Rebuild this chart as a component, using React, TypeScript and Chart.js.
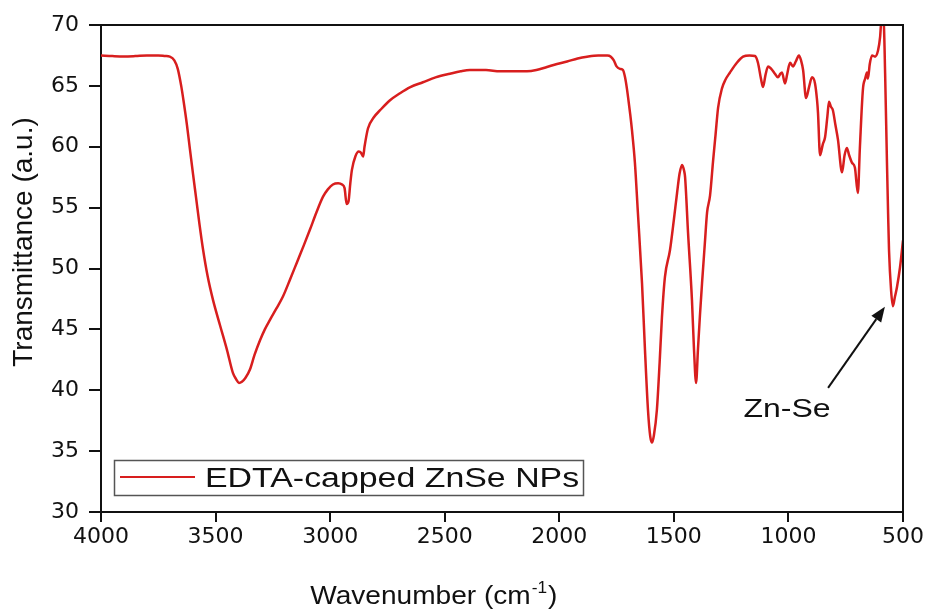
import React, { useEffect, useRef } from "react";
import { Chart, registerables } from "chart.js";

Chart.register(...registerables);

// ---- data ----
const wavenumbers = [
  4000, 3950, 3900, 3850, 3800, 3750, 3720, 3700, 3680, 3665, 3650, 3640, 3625, 3612, 3600,
  3585, 3570, 3555, 3535, 3511, 3480, 3450, 3424, 3410, 3398, 3385, 3370, 3350, 3330, 3306,
  3285, 3262, 3235, 3206, 3175, 3145, 3115, 3088, 3060, 3031, 3010, 2988, 2965, 2948, 2937,
  2928, 2920, 2912, 2905, 2890, 2875, 2865, 2856, 2850, 2835, 2810, 2782, 2740, 2695, 2650,
  2595, 2540, 2477, 2430, 2390, 2320, 2259, 2200, 2141, 2100, 2054, 2010, 1966, 1920, 1879,
  1830, 1790, 1775, 1762, 1750, 1735, 1722, 1713, 1705, 1700, 1690, 1683, 1670, 1657, 1639,
  1626, 1613, 1603, 1595, 1587, 1574, 1562, 1552, 1539, 1517, 1500, 1486, 1475, 1464, 1455,
  1451, 1438, 1421, 1412, 1403, 1395, 1386, 1377, 1365, 1355, 1342, 1329, 1318, 1307, 1290,
  1275, 1255, 1225, 1198, 1170, 1146, 1133, 1120, 1111, 1100, 1089, 1075, 1059, 1046, 1035,
  1028, 1015, 1005, 993, 980, 968, 954, 945, 936, 923, 910, 897, 884, 875, 871,
  862, 850, 840, 830, 823, 815, 806, 795, 784, 766, 755, 745, 735, 723, 710,
  697, 688, 675, 665, 657, 653, 645, 635, 622, 609, 600, 595, 590, 584, 578,
  570, 565, 561, 552, 544, 536, 526, 513, 500,
];
const transmittance = [
  67.5, 67.45, 67.42, 67.45, 67.5, 67.5, 67.45, 67.4, 67.1, 66.4, 65.0, 63.8, 61.8, 59.8, 58.0,
  55.8, 53.6, 51.6, 49.4, 47.4, 45.3, 43.3, 41.4, 40.9, 40.6, 40.7, 41.0, 41.7, 42.9, 44.1,
  45.0, 45.8, 46.7, 47.7, 49.1, 50.5, 51.9, 53.2, 54.6, 55.9, 56.5, 56.9, 57.0, 56.9, 56.6,
  55.3, 55.5, 57.0, 58.1, 59.2, 59.6, 59.5, 59.2, 60.0, 61.5, 62.4, 63.0, 63.8, 64.4, 64.9,
  65.3, 65.7, 66.0, 66.2, 66.3, 66.3, 66.2, 66.2, 66.2, 66.3, 66.55, 66.8, 67.0, 67.25, 67.4,
  67.5, 67.5, 67.4, 67.1, 66.6, 66.4, 66.3, 65.7, 64.8, 64.1, 62.6, 61.4, 58.7, 54.6, 48.8,
  43.3, 38.4, 36.2, 35.7, 36.3, 38.4, 42.3, 46.0, 49.3, 51.5, 54.0, 56.2, 57.8, 58.5, 58.0,
  57.5, 52.9, 47.4, 43.3, 40.6, 43.3, 46.2, 48.8, 52.0, 54.6, 56.0, 58.8, 61.0, 63.2, 64.8,
  65.5, 66.1, 66.9, 67.4, 67.5, 67.45, 66.9, 65.6, 64.9, 65.9, 66.6, 66.4, 66.0, 65.7, 66.0,
  66.1, 65.2, 66.0, 66.9, 66.6, 67.0, 67.5, 67.1, 66.3, 64.0, 64.9, 65.7, 65.2, 63.8, 62.8,
  59.3, 60.2, 60.8, 62.5, 63.7, 63.3, 63.0, 61.8, 60.6, 57.9, 59.3, 59.9, 59.3, 58.7, 58.3,
  56.2, 60.0, 64.7, 65.6, 66.1, 65.6, 66.8, 67.5, 67.4, 67.9, 69.0, 70.3, 70.6, 70.2, 66.0,
  58.7, 54.5, 51.5, 48.2, 46.9, 47.6, 48.5, 50.1, 52.3,
];
const xTickValues = [4000, 3500, 3000, 2500, 2000, 1500, 1000, 500];
const yTickValues = [30, 35, 40, 45, 50, 55, 60, 65, 70];
const seriesLabel = "EDTA-capped ZnSe NPs";
const xTitleMain = "Wavenumber (cm";
const xTitleSup = "-1";
const xTitleEnd = ")";
const yTitle = "Transmittance (a.u.)";
const annotationText = "Zn-Se";
const arrowTail = { x: 827, y: 40.2 };
const arrowTip = { x: 579, y: 46.85 };
const annotationAnchor = { x: 1006, y: 37.8 };

// ---- styles ----
const RED = "#d81e1e";
const SANS = "'Liberation Sans', Arial, sans-serif";

function drawStretched(
  ctx: CanvasRenderingContext2D,
  text: string,
  x: number,
  y: number,
  font: string,
  align: "left" | "center",
  stretch: number
) {
  ctx.save();
  ctx.font = font;
  const w = ctx.measureText(text).width;
  ctx.translate(x, y);
  ctx.scale(stretch, 1);
  ctx.textAlign = "left";
  ctx.textBaseline = "alphabetic";
  ctx.fillText(text, align === "center" ? -w / 2 : 0, 0);
  ctx.restore();
  return w * stretch;
}

const decorPlugin = {
  id: "decor",
  afterDatasetsDraw(chart: any) {
    const { ctx, chartArea } = chart;
    const { left, right, top, bottom } = chartArea;
    ctx.save();
    ctx.strokeStyle = "#111";
    ctx.lineWidth = 2;
    ctx.beginPath();
    ctx.moveTo(left, top);
    ctx.lineTo(right, top);
    ctx.lineTo(right, bottom);
    ctx.stroke();
    ctx.restore();
  },
  afterDraw(chart: any) {
    const { ctx, chartArea, scales } = chart;
    const { left, right, bottom } = chartArea;
    const xs = scales.x;
    const ys = scales.y;
    ctx.save();
    ctx.fillStyle = "#111";

    // legend
    const lx = left + 13;
    const ly = bottom - 52;
    ctx.strokeStyle = "#555";
    ctx.lineWidth = 1.5;
    ctx.strokeRect(lx + 0.5, ly + 0.5, 469, 35);
    ctx.strokeStyle = RED;
    ctx.lineWidth = 2;
    ctx.beginPath();
    ctx.moveTo(lx + 6, ly + 17);
    ctx.lineTo(lx + 81, ly + 17);
    ctx.stroke();
    ctx.fillStyle = "#111";
    drawStretched(ctx, seriesLabel, lx + 91, ly + 27, `27px ${SANS}`, "left", 1.255);

    // annotation arrow
    const tx = xs.getPixelForValue(arrowTail.x);
    const ty = ys.getPixelForValue(arrowTail.y);
    const hx = xs.getPixelForValue(arrowTip.x);
    const hy = ys.getPixelForValue(arrowTip.y);
    const ang = Math.atan2(hy - ty, hx - tx);
    const headLen = 15;
    const headW = 6;
    const bx = hx - headLen * Math.cos(ang);
    const by = hy - headLen * Math.sin(ang);
    ctx.strokeStyle = "#111";
    ctx.lineWidth = 2;
    ctx.beginPath();
    ctx.moveTo(tx, ty);
    ctx.lineTo(bx, by);
    ctx.stroke();
    ctx.beginPath();
    ctx.moveTo(hx, hy);
    ctx.lineTo(bx + headW * Math.sin(ang), by - headW * Math.cos(ang));
    ctx.lineTo(bx - headW * Math.sin(ang), by + headW * Math.cos(ang));
    ctx.closePath();
    ctx.fill();
    drawStretched(
      ctx,
      annotationText,
      xs.getPixelForValue(annotationAnchor.x),
      ys.getPixelForValue(annotationAnchor.y),
      `26px ${SANS}`,
      "center",
      1.23
    );

    // x title with superscript
    const tStretch = 1.08;
    const mainFont = `26px ${SANS}`;
    const supFont = `16px ${SANS}`;
    ctx.font = mainFont;
    const w1 = ctx.measureText(xTitleMain).width * tStretch;
    const w3 = ctx.measureText(xTitleEnd).width * tStretch;
    ctx.font = supFont;
    const w2 = ctx.measureText(xTitleSup).width * tStretch;
    const total = w1 + w2 + 2 + w3;
    const cx = left + 0.415 * (right - left);
    const baseY = 604;
    let sx = cx - total / 2;
    drawStretched(ctx, xTitleMain, sx, baseY, mainFont, "left", tStretch);
    sx += w1 + 1;
    drawStretched(ctx, xTitleSup, sx, baseY - 11, supFont, "left", tStretch);
    sx += w2 + 1;
    drawStretched(ctx, xTitleEnd, sx, baseY, mainFont, "left", tStretch);

    // y title (rotated)
    ctx.save();
    ctx.translate(32, 242);
    ctx.rotate(-Math.PI / 2);
    ctx.font = `28px ${SANS}`;
    ctx.textAlign = "center";
    ctx.textBaseline = "alphabetic";
    ctx.fillText(yTitle, 0, 0);
    ctx.restore();

    ctx.restore();
  },
};

export default function App() {
  const canvasRef = useRef<HTMLCanvasElement | null>(null);

  useEffect(() => {
    const canvas = canvasRef.current;
    if (!canvas) return;
    const points = wavenumbers.map((w, i) => ({ x: w, y: transmittance[i] }));
    const tickFont = { family: "'DejaVu Sans', sans-serif", size: 22 };
    const chart = new Chart(canvas, {
      type: "line",
      data: {
        datasets: [
          {
            label: seriesLabel,
            data: points,
            borderColor: RED,
            backgroundColor: RED,
            borderWidth: 2.5,
            pointRadius: 0,
            cubicInterpolationMode: "monotone",
            fill: false,
            clip: 0,
          },
        ],
      },
      options: {
        responsive: false,
        maintainAspectRatio: false,
        animation: false,
        devicePixelRatio: 1,
        layout: { padding: { left: 0, top: 25, right: 27, bottom: 0 } },
        plugins: {
          legend: { display: false },
          tooltip: { enabled: false },
          title: { display: false },
        },
        scales: {
          x: {
            type: "linear",
            reverse: true,
            min: 500,
            max: 4000,
            afterBuildTicks: (s: any) => {
              s.ticks = xTickValues.map((v) => ({ value: v }));
            },
            afterFit: (s: any) => {
              s.height = 99;
            },
            ticks: {
              color: "#111",
              font: tickFont,
              padding: 2,
              maxRotation: 0,
              autoSkip: false,
              callback: (v: any) => String(v),
            },
            grid: {
              display: true,
              drawOnChartArea: false,
              drawTicks: true,
              tickLength: 10,
              color: "#111",
              lineWidth: 2,
            },
            border: { display: true, color: "#111", width: 2 },
            title: { display: false },
          },
          y: {
            type: "linear",
            min: 30,
            max: 70,
            afterBuildTicks: (s: any) => {
              s.ticks = yTickValues.map((v) => ({ value: v }));
            },
            afterFit: (s: any) => {
              s.width = 101;
            },
            ticks: {
              color: "#111",
              font: tickFont,
              padding: 10,
              autoSkip: false,
              callback: (v: any) => String(v),
            },
            grid: {
              display: true,
              drawOnChartArea: false,
              drawTicks: true,
              tickLength: 12,
              color: "#111",
              lineWidth: 2,
            },
            border: { display: true, color: "#111", width: 2 },
            title: { display: false },
          },
        },
      },
      plugins: [decorPlugin],
    } as any);
    return () => chart.destroy();
  }, []);

  return (
    <div style={{ position: "absolute", left: 0, top: 0, width: 930, height: 611, background: "#fff" }}>
      <canvas ref={canvasRef} width={930} height={611} style={{ display: "block" }} />
    </div>
  );
}
